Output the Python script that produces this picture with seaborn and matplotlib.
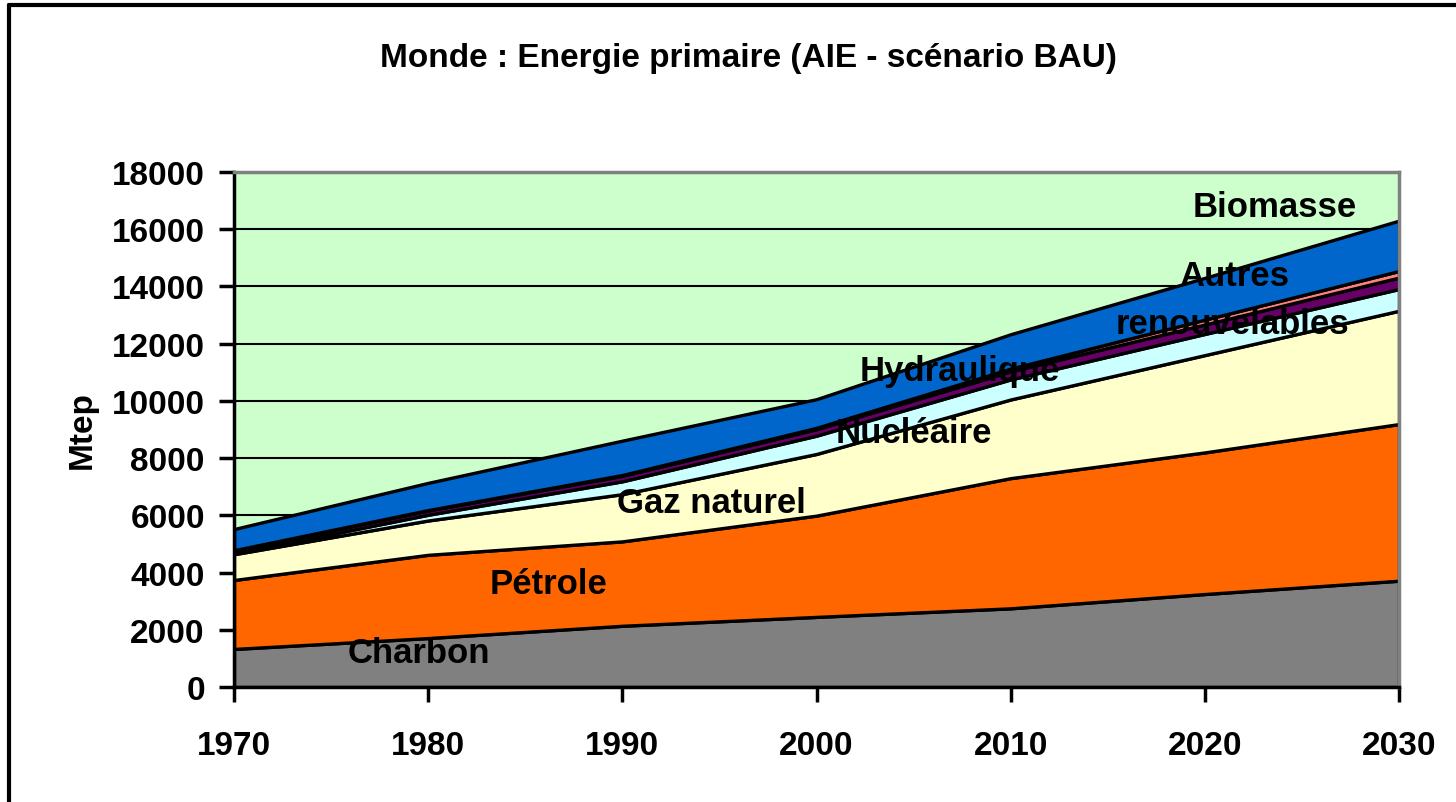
import numpy as np
import pandas as pd
import seaborn as sns
import matplotlib.pyplot as plt
from matplotlib.lines import Line2D

# Values (Mtep)
years = [1970, 1980, 1990, 2000, 2010, 2020, 2030]
charbon = [1330, 1710, 2140, 2450, 2750, 3250, 3715]
petrole = [2410, 2910, 2950, 3540, 4550, 4950, 5475]
gaz = [900, 1200, 1650, 2155, 2750, 3400, 3960]
nucleaire = [30, 200, 450, 640, 700, 740, 760]
hydraulique = [105, 150, 190, 225, 280, 330, 400]
autres = [5, 15, 30, 50, 100, 170, 230]
biomasse = [740, 950, 1200, 1000, 1200, 1460, 1760]

df = pd.DataFrame({
    'Charbon': charbon, 'Pétrole': petrole, 'Gaz naturel': gaz,
    'Nucléaire': nucleaire, 'Hydraulique': hydraulique,
    'Autres renouvelables': autres, 'Biomasse': biomasse,
}, index=years)

colors = ['#808080', '#FF6600', '#FFFFCC', '#CCFFFF', '#660066', '#FF8080', '#0066CC']

sns.set_style('white')
plt.rcParams['font.family'] = ['Liberation Sans', 'DejaVu Sans']
plt.rcParams['font.weight'] = 'bold'
plt.rcParams['text.color'] = 'black'
plt.rcParams['axes.labelcolor'] = 'black'
plt.rcParams['xtick.color'] = 'black'
plt.rcParams['ytick.color'] = 'black'

fig = plt.figure(figsize=(14.56, 8.03), dpi=100)
ax = fig.add_axes([234 / 1456, 1 - 688 / 803, 1165 / 1456, 515 / 803])
ax.set_facecolor('#CCFFCC')

# grid lines behind the areas
for yv in range(2000, 18001, 2000):
    ax.axhline(yv, color='black', lw=1.5, zorder=0)

ax.stackplot(df.index, [df[c].values for c in df.columns], colors=colors,
             edgecolor='black', linewidth=2.4, zorder=2)

ax.set_xlim(1970, 2030)
ax.set_ylim(0, 18000)
ax.set_xticks(years)
ax.set_yticks(range(0, 18001, 2000))
ax.tick_params(axis='both', labelsize=24, direction='out', length=11, width=2.5,
               color='black', labelcolor='black', left=True, bottom=True)
ax.tick_params(axis='y', pad=10)
ax.tick_params(axis='x', pad=20)
for lab in ax.get_xticklabels() + ax.get_yticklabels():
    lab.set_fontweight('bold')

for side in ['left', 'bottom']:
    ax.spines[side].set_color('black')
    ax.spines[side].set_linewidth(2.5)
for side in ['top', 'right']:
    ax.spines[side].set_color('#808080')
    ax.spines[side].set_linewidth(2.5)

ax.set_ylabel('Mtep', fontsize=24, fontweight='bold', labelpad=10)

fig.text(748 / 1456, 1 - 58 / 803, 'Monde : Energie primaire (AIE - scénario BAU)',
         ha='center', va='center', fontsize=24, fontweight='bold')

# labels inside the areas
labels = [
    ('Biomasse', 2023.6, 16780),
    ('Autres', 2021.5, 14400),
    ('renouvelables', 2021.4, 12690),
    ('Hydraulique', 2007.4, 11045),
    ('Nucléaire', 2005.0, 8880),
    ('Gaz naturel', 1994.6, 6450),
    ('Pétrole', 1986.2, 3600),
    ('Charbon', 1979.5, 1190),
]
for txt, xv, yv in labels:
    ax.text(xv, yv, txt, ha='center', va='center', fontsize=25,
            fontweight='bold', zorder=5)

# figure frame
fig.add_artist(Line2D([9 / 1456, 9 / 1456], [0, 1 - 6 / 803], color='black', lw=3))
fig.add_artist(Line2D([9 / 1456, 1], [1 - 6 / 803, 1 - 6 / 803], color='black', lw=3))

fig.savefig('out.png', dpi=100, facecolor='white')
